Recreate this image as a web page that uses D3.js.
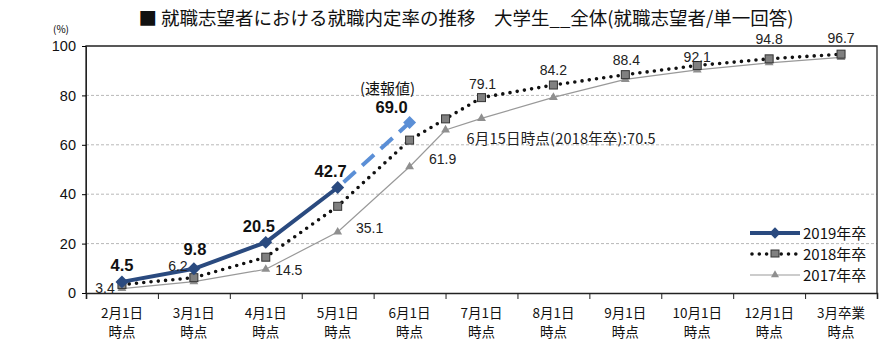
<!DOCTYPE html>
<html>
<head>
<meta charset="utf-8">
<script src="https://cdn.jsdelivr.net/npm/d3@7"></script>
<style>
  body { margin: 0; background: #fff; }
  text { font-family: "Liberation Sans", Arial, sans-serif; }
  .jp { font-family: "Noto Sans CJK JP", sans-serif; }
</style>
</head>
<body>
<div id="chart"></div>
<script>
const categories = ["2月1日\n時点", "3月1日\n時点", "4月1日\n時点", "5月1日\n時点", "6月1日\n時点",
  "7月1日\n時点", "8月1日\n時点", "9月1日\n時点", "10月1日\n時点", "12月1日\n時点", "3月卒業\n時点"];
const yTicks = [0, 20, 40, 60, 80, 100];

const y2019 = [4.5, 9.8, 20.5, 42.7];
const y2019Prelim = 69.0;            // 6月1日 速報値
const y2018 = [3.4, 6.2, 14.5, 35.1, 61.9, 79.1, 84.2, 88.4, 92.1, 94.8, 96.7];
const y2018Jun15 = 70.5;             // 6月15日時点
const y2017 = [1.8, 4.6, 9.6, 24.7, 51.1, 70.7, 79.2, 86.5, 90.3, 93.2, 95.4];
const y2017Jun15 = 66.0;

(function () {
  const width = 896, height = 353;
  const margin = { top: 46, right: 19, bottom: 60, left: 86 };
  const svg = d3.select("#chart").append("svg")
    .attr("width", width)
    .attr("height", height);

  const x = d3.scaleLinear().domain([-0.5, categories.length - 0.5])
    .range([margin.left, width - margin.right]);
  const y = d3.scaleLinear().domain([0, 100])
    .range([height - margin.bottom, margin.top]);

  // series with positions (6月15日 sits halfway between 6月 and 7月)
  const withJun15 = (arr, mid) => {
    const pts = arr.map((v, i) => ({ i: i, v: v }));
    pts.splice(5, 0, { i: 4.5, v: mid });
    return pts;
  };
  const s2019 = y2019.map((v, i) => ({ i: i, v: v }));
  const s2019p = [{ i: 3, v: y2019[3] }, { i: 4, v: y2019Prelim }];
  const s2018 = withJun15(y2018, y2018Jun15);
  const s2017 = withJun15(y2017, y2017Jun15);

  const line = d3.line().x(d => x(d.i)).y(d => y(d.v));
  const diamond = d3.symbol(d3.symbolSquare, 84);

  // title
  svg.append("text").attr("class", "jp")
    .attr("x", 466).attr("y", 25)
    .attr("text-anchor", "middle")
    .attr("font-size", 18.5)
    .attr("fill", "#111")
    .text("■ 就職志望者における就職内定率の推移　大学生__全体(就職志望者/単一回答)");

  svg.append("text").attr("class", "jp")
    .attr("x", 61).attr("y", 33)
    .attr("text-anchor", "middle")
    .attr("font-size", 10)
    .text("(%)");

  // grid
  svg.append("g").selectAll("line")
    .data(yTicks.filter(t => t > 0 && t < 100))
    .join("line")
    .attr("x1", x.range()[0]).attr("x2", x.range()[1])
    .attr("y1", d => y(d)).attr("y2", d => y(d))
    .attr("stroke", "#b8b8b8")
    .attr("stroke-dasharray", "3 2");

  // plot frame
  svg.append("path")
    .attr("d", `M${x.range()[0]},${y(0)}V${y(100)}H${x.range()[1]}V${y(0)}`)
    .attr("fill", "none").attr("stroke", "#222").attr("stroke-width", 1.3);

  // y axis
  const yAxis = svg.append("g")
    .attr("transform", `translate(${margin.left},0)`)
    .call(d3.axisLeft(y).tickValues(yTicks).tickSize(4).tickPadding(6));
  yAxis.select(".domain").attr("stroke", "#222");
  yAxis.selectAll("text").attr("font-size", 14.5).attr("fill", "#111")
    .attr("font-family", "Liberation Sans, Arial, sans-serif");

  // x axis
  const bounds = d3.range(categories.length + 1).map(i => i - 0.5);
  const xAxis = svg.append("g")
    .attr("transform", `translate(0,${y(0)})`)
    .call(d3.axisBottom(x).tickValues(bounds).tickSize(6).tickFormat(""));
  xAxis.select(".domain").attr("stroke", "#222").attr("stroke-width", 1.6);
  xAxis.selectAll(".tick line").attr("stroke", "#222");

  const catLabels = svg.append("g").selectAll("text")
    .data(categories)
    .join("text")
    .attr("class", "jp")
    .attr("text-anchor", "middle")
    .attr("font-size", 13.5)
    .attr("fill", "#111")
    .attr("transform", (d, i) => `translate(${x(i)},${y(0) + 25})`);
  catLabels.selectAll("tspan")
    .data(d => d.split("\n"))
    .join("tspan")
    .attr("x", 0)
    .attr("dy", (d, j) => j === 0 ? 0 : 19)
    .text(d => d);

  // 2017
  svg.append("path").datum(s2017)
    .attr("d", line).attr("fill", "none")
    .attr("stroke", "#999").attr("stroke-width", 1.2);
  svg.append("g").selectAll("path")
    .data(s2017).join("path")
    .attr("d", d3.symbol(d3.symbolTriangle, 34))
    .attr("transform", d => `translate(${x(d.i)},${y(d.v)})`)
    .attr("fill", "#8f8f8f");

  // 2018
  svg.append("path").datum(s2018)
    .attr("d", line).attr("fill", "none")
    .attr("stroke", "#111").attr("stroke-width", 3.6)
    .attr("stroke-linecap", "round")
    .attr("stroke-dasharray", "0 7.3");
  svg.append("g").selectAll("rect")
    .data(s2018).join("rect")
    .attr("x", d => x(d.i) - 4).attr("y", d => y(d.v) - 4)
    .attr("width", 8).attr("height", 8)
    .attr("fill", "#808080").attr("stroke", "#333").attr("stroke-width", 1);

  // 2019 preliminary
  svg.append("path").datum(s2019p)
    .attr("d", line).attr("fill", "none")
    .attr("stroke", "#5b8fd6").attr("stroke-width", 4)
    .attr("stroke-dasharray", "16 9")
    .attr("stroke-dashoffset", -8);
  svg.append("path")
    .attr("d", diamond)
    .attr("transform", `translate(${x(4)},${y(y2019Prelim)}) rotate(45)`)
    .attr("fill", "#5b8fd6");

  // 2019
  svg.append("path").datum(s2019)
    .attr("d", line).attr("fill", "none")
    .attr("stroke", "#2a4a7f").attr("stroke-width", 4);
  svg.append("g").selectAll("path")
    .data(s2019).join("path")
    .attr("d", diamond)
    .attr("transform", d => `translate(${x(d.i)},${y(d.v)}) rotate(45)`)
    .attr("fill", "#2a4a7f");

  // labels 2019
  const off2019 = [[0, -11], [1, -14], [-7, -10], [-7, -11]];
  svg.append("g").selectAll("text")
    .data(s2019).join("text")
    .attr("x", (d, k) => x(d.i) + off2019[k][0])
    .attr("y", (d, k) => y(d.v) + off2019[k][1])
    .attr("text-anchor", "middle")
    .attr("font-family", "DejaVu Sans, sans-serif")
    .attr("font-weight", "bold")
    .attr("font-size", 16.5)
    .attr("fill", "#111")
    .text(d => d.v.toFixed(1));
  svg.append("text")
    .attr("x", x(4) - 18).attr("y", y(y2019Prelim) - 10)
    .attr("text-anchor", "middle")
    .attr("font-family", "DejaVu Sans, sans-serif")
    .attr("font-weight", "bold")
    .attr("font-size", 16.5)
    .attr("fill", "#111")
    .text(y2019Prelim.toFixed(1));
  svg.append("text").attr("class", "jp")
    .attr("x", x(4) - 22).attr("y", y(y2019Prelim) - 29)
    .attr("text-anchor", "middle")
    .attr("font-size", 15)
    .attr("fill", "#111")
    .text("(速報値)");

  // labels 2018
  const off2018 = [[-17, 8], [-16, -7], [23, 18], [32, 27], [33, 24], [1, -9],
    [0, -10], [1, -10], [0, -4], [0, -15], [0, -11]];
  svg.append("g").selectAll("text")
    .data(y2018).join("text")
    .attr("x", (d, i) => x(i) + off2018[i][0])
    .attr("y", (d, i) => y(d) + off2018[i][1])
    .attr("text-anchor", "middle")
    .attr("font-size", 14)
    .attr("fill", "#222")
    .text(d => d.toFixed(1));
  svg.append("text").attr("class", "jp")
    .attr("x", x(4.5) + 21).attr("y", y(y2018Jun15) + 25)
    .attr("font-size", 14.5)
    .attr("letter-spacing", 0.2)
    .attr("fill", "#222")
    .text("6月15日時点(2018年卒):" + y2018Jun15.toFixed(1));

  // legend
  const legend = [
    { name: "2019年卒", type: "2019" },
    { name: "2018年卒", type: "2018" },
    { name: "2017年卒", type: "2017" }
  ];
  const lg = svg.append("g").attr("transform", "translate(750,233)");
  legend.forEach((d, k) => {
    const g = lg.append("g").attr("transform", `translate(0,${k * 21})`);
    if (d.type === "2019") {
      g.append("line").attr("x1", 0).attr("x2", 50).attr("stroke", "#2a4a7f").attr("stroke-width", 4);
      g.append("path").attr("d", d3.symbol(d3.symbolSquare, 64)).attr("transform", "translate(25,0) rotate(45)").attr("fill", "#2a4a7f");
    } else if (d.type === "2018") {
      g.append("line").attr("x1", 2).attr("x2", 50).attr("stroke", "#111").attr("stroke-width", 3.6)
        .attr("stroke-linecap", "round").attr("stroke-dasharray", "0 7.3");
      g.append("rect").attr("x", 21).attr("y", -4).attr("width", 8).attr("height", 7)
        .attr("fill", "#808080").attr("stroke", "#333");
    } else {
      g.append("line").attr("x1", 0).attr("x2", 50).attr("stroke", "#999").attr("stroke-width", 1.2);
      g.append("path").attr("d", d3.symbol(d3.symbolTriangle, 28)).attr("transform", "translate(25,0)").attr("fill", "#8f8f8f");
    }
    g.append("text").attr("class", "jp")
      .attr("x", 53).attr("y", 5.5)
      .attr("font-size", 15)
      .attr("fill", "#111")
      .text(d.name);
  });
})();
</script>
</body>
</html>
